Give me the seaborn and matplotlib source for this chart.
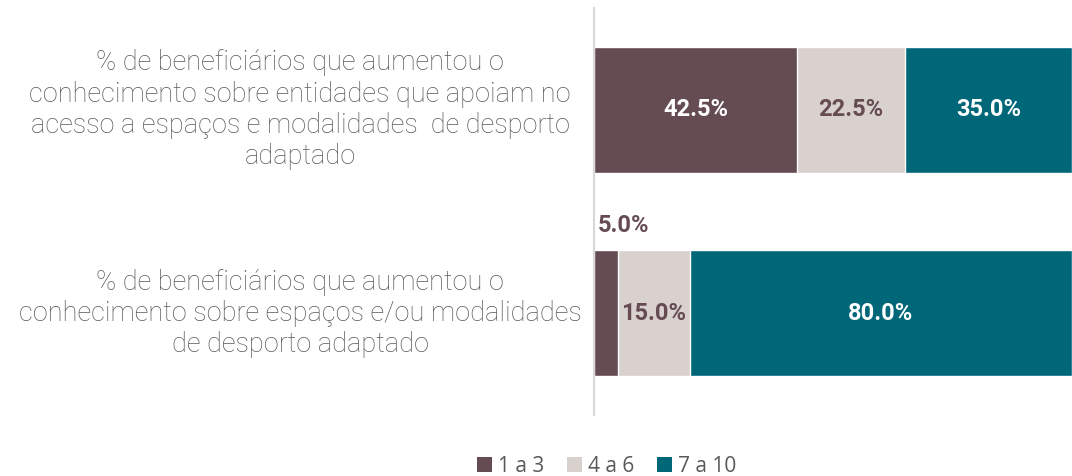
import numpy as np
import pandas as pd
import matplotlib
matplotlib.use("Agg")
import matplotlib.pyplot as plt
import seaborn as sns
from matplotlib.patches import Patch

# --- datos ---
categorias = [
    "% de beneficiários que aumentou o\nconhecimento sobre entidades que apoiam no\nacesso a espaços e modalidades  de desporto\nadaptado",
    "% de beneficiários que aumentou o\nconhecimento sobre espaços e/ou modalidades\nde desporto adaptado",
]
series = ["1 a 3", "4 a 6", "7 a 10"]
val_1a3 = [42.5, 5.0]
val_4a6 = [22.5, 15.0]
val_7a10 = [35.0, 80.0]

colores = ["#654B52", "#D9D1CD", "#006779"]
color_texto = ["white", "#654B52", "white"]

sns.set_theme(style="white")
plt.rcParams["font.family"] = ["Roboto", "DejaVu Sans"]

df = pd.DataFrame({"cat": categorias, "1 a 3": val_1a3, "4 a 6": val_4a6, "7 a 10": val_7a10})
acum = df[series].cumsum(axis=1)

fig = plt.figure(figsize=(10.72, 4.76), dpi=100)
ax = fig.add_axes([594 / 1072, 1 - 415 / 476, 1 - 594 / 1072, 407 / 476])

# barras apiladas: dibujar acumulados de mayor a menor
for i in reversed(range(len(series))):
    sns.barplot(x=acum[series[i]], y=df["cat"], orient="h", color=colores[i],
                width=0.62, saturation=1, ax=ax)

ax.set_xlim(0, 100)
ax.set_ylim(1.5, -0.5)
ax.set_xlabel("")
ax.set_ylabel("")
ax.set_xticks([])
ax.set_yticks([])
for s in ["top", "right", "bottom"]:
    ax.spines[s].set_visible(False)
ax.spines["left"].set_color("#D9D9D9")
ax.spines["left"].set_linewidth(1.5)

# etiquetas de categorías
trans = matplotlib.transforms.blended_transform_factory(ax.transAxes, ax.transData)
for j, c in enumerate(categorias):
    ax.text(-0.615, j, c, transform=trans, ha="center", va="center",
            multialignment="center", fontsize=19.5, color="#595959",
            family=["Roboto", "DejaVu Sans"], fontweight="light", linespacing=1.2)

# etiquetas de valores
for j in range(len(categorias)):
    inicio = 0
    for i, s in enumerate(series):
        v = df[s][j]
        txt = f"{v:.1f}%"
        if v < 8:
            ax.text(inicio + 0.8, j - 0.43, txt, ha="left", va="center",
                    fontsize=17, fontweight="bold", color="#654B52")
        else:
            ax.text(inicio + v / 2, j, txt, ha="center", va="center",
                    fontsize=17, fontweight="bold", color=color_texto[i])
        inicio += v

handles = [Patch(facecolor=colores[i], edgecolor="none", label=series[i]) for i in range(3)]
leg = fig.legend(handles=handles, loc="center", bbox_to_anchor=(607 / 1072, 1 - 466 / 476),
                 ncol=3, frameon=False, handlelength=0.7, handleheight=0.7,
                 handletextpad=0.3, columnspacing=1.1,
                 prop={"family": ["Open Sans", "DejaVu Sans"], "size": 15})
for t in leg.get_texts():
    t.set_color("#595959")

fig.savefig("out.png", dpi=100)
